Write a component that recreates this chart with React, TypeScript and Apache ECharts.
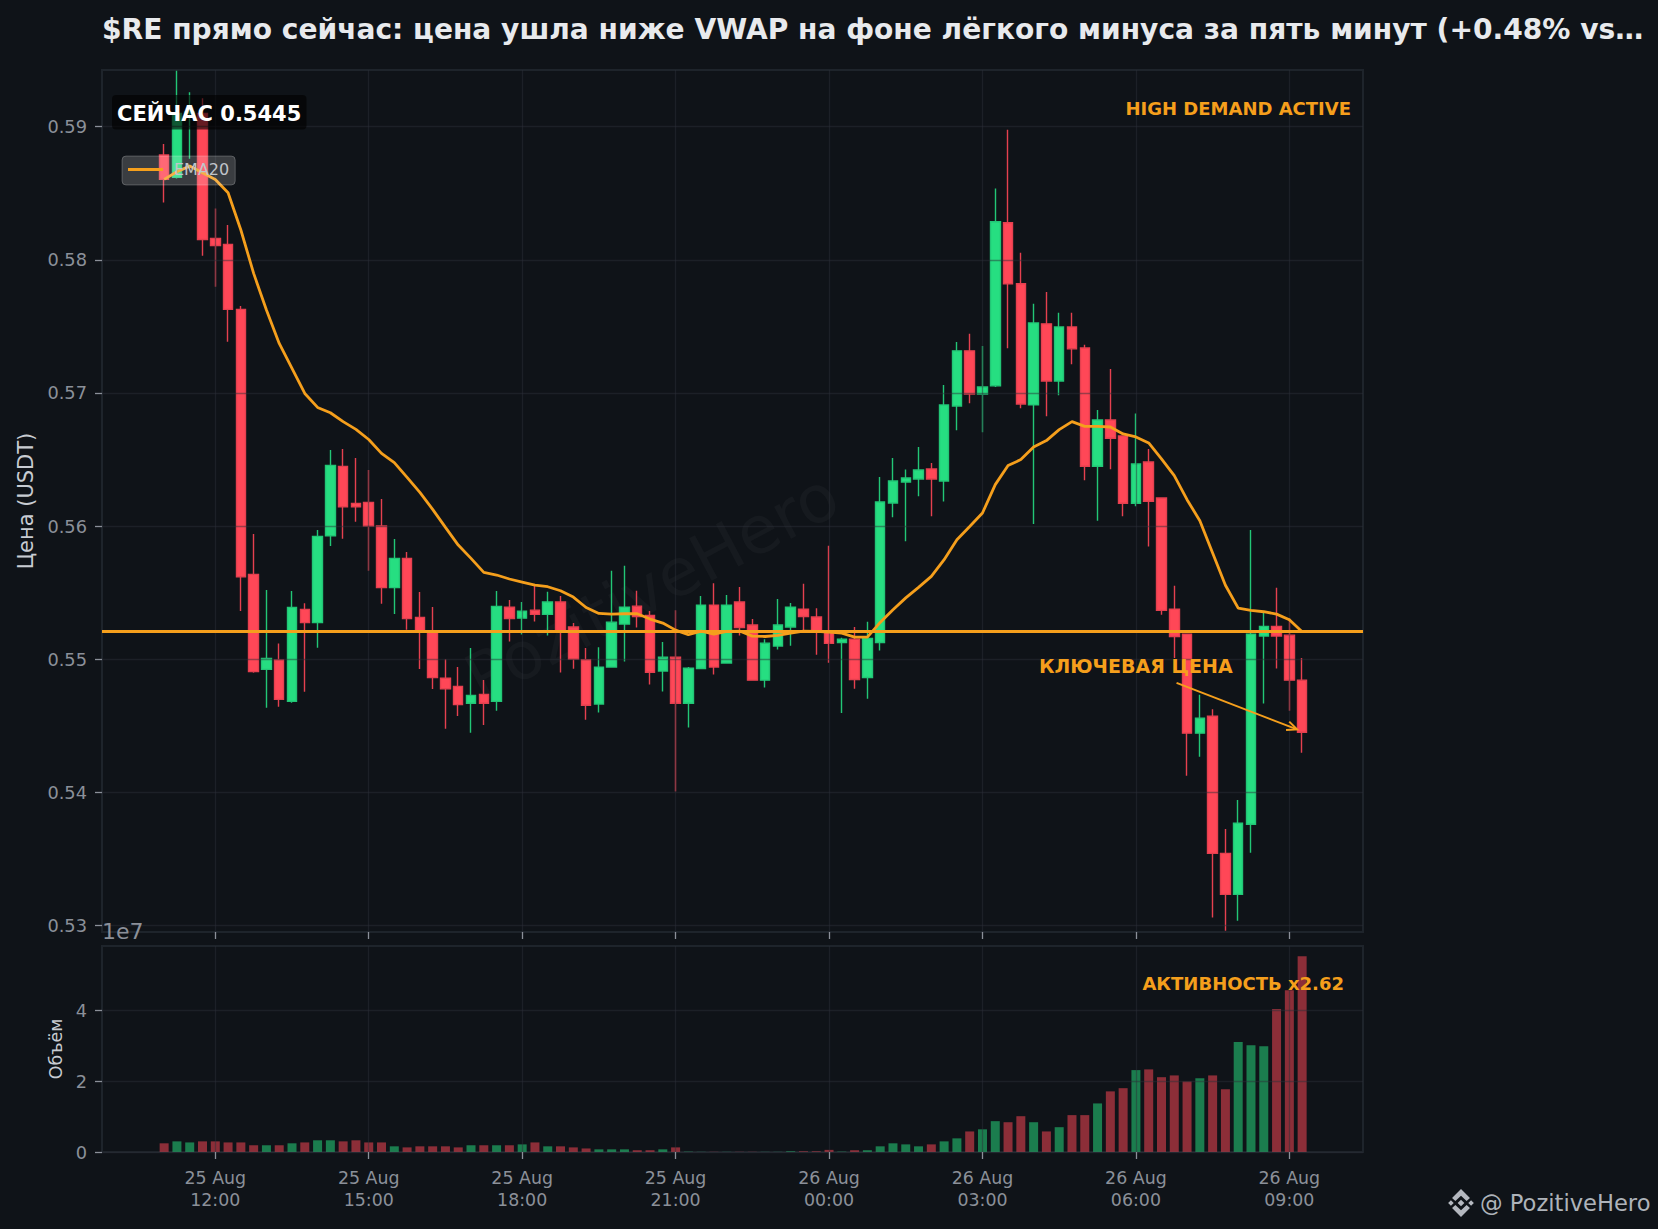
import React, { useEffect, useRef } from "react";
import * as echarts from "echarts";

const titleText = "$RE прямо сейчас: цена ушла ниже VWAP на фоне лёгкого минуса за пять минут (+0.48% vs…";
const yTicks = [0.53, 0.54, 0.55, 0.56, 0.57, 0.58, 0.59];
const volTicks = [0, 2, 4];
const xTickSlots = [4, 16, 28, 40, 52, 64, 76, 88];
const xTickLabels = ["25 Aug\n12:00", "25 Aug\n15:00", "25 Aug\n18:00", "25 Aug\n21:00", "26 Aug\n00:00", "26 Aug\n03:00", "26 Aug\n06:00", "26 Aug\n09:00"];
const keyPrice = 0.5521;
const arrowCoords = [79.18, 0.54822, 88.6, 0.54472];

const opens = [
  0.58787, 0.58619, 0.5910, 0.5910, 0.58161, 0.58116, 0.57628, 0.55637, 0.54923, 0.54993,
  0.54683, 0.55374, 0.55274, 0.55927, 0.56448, 0.5617, 0.56178, 0.56, 0.55537, 0.55757,
  0.55314, 0.55209, 0.54856, 0.54795, 0.54668, 0.54735, 0.54683, 0.5539, 0.55308, 0.55368,
  0.55336, 0.55429, 0.55241, 0.54995, 0.54662, 0.5494, 0.55263, 0.55398, 0.55328, 0.5491,
  0.55015, 0.54669, 0.5493, 0.55406, 0.5497, 0.55429, 0.55256, 0.54842, 0.55098, 0.55241,
  0.55376, 0.55316, 0.55208, 0.55125, 0.5515, 0.54862, 0.55125, 0.56173, 0.56331, 0.56353,
  0.56429, 0.56338, 0.56902, 0.57316, 0.56992, 0.57053, 0.58278, 0.5782, 0.5691, 0.57519,
  0.5709, 0.57496, 0.57338, 0.56449, 0.56797, 0.56677, 0.56171, 0.56481, 0.56211, 0.55376,
  0.55188, 0.54444, 0.54571, 0.53541, 0.53233, 0.5376, 0.55173, 0.55246, 0.5518, 0.54842,
];
const closes = [
  0.58604, 0.5910, 0.5911, 0.58153, 0.58108, 0.57628, 0.55619, 0.54906, 0.55006, 0.54698,
  0.55389, 0.55274, 0.55922, 0.56456, 0.56145, 0.56145, 0.56, 0.55537, 0.55757, 0.55304,
  0.55209, 0.54861, 0.54778, 0.54658, 0.54728, 0.54668, 0.55396, 0.55305, 0.55361, 0.55336,
  0.55429, 0.55208, 0.55, 0.54654, 0.5494, 0.55278, 0.55391, 0.5532, 0.54902, 0.55015,
  0.54669, 0.54932, 0.55406, 0.5494, 0.55406, 0.55238, 0.54842, 0.5512, 0.55256, 0.55391,
  0.5532, 0.55208, 0.55118, 0.5515, 0.54847, 0.55155, 0.5618, 0.56338, 0.56361, 0.56421,
  0.56353, 0.5691, 0.57316, 0.56992, 0.57045, 0.58286, 0.5782, 0.56917, 0.57526, 0.5709,
  0.57496, 0.57331, 0.56449, 0.56797, 0.56659, 0.56171, 0.56466, 0.56186, 0.55366, 0.5517,
  0.54444, 0.54556, 0.53541, 0.53233, 0.53767, 0.55188, 0.55246, 0.55173, 0.54842, 0.54451,
];
const lows = [
  0.5843, 0.5861, 0.5876, 0.5803, 0.57798, 0.57385, 0.55361, 0.54898, 0.54635, 0.54643,
  0.54673, 0.54755, 0.55086, 0.5585, 0.55905, 0.56033, 0.55664, 0.55416, 0.55339, 0.5522,
  0.54926, 0.54775, 0.54477, 0.54573, 0.54447, 0.54505, 0.54613, 0.55132, 0.55185, 0.55283,
  0.55178, 0.549, 0.54927, 0.54544, 0.54599, 0.5494, 0.54982, 0.55238, 0.54809, 0.54757,
  0.54005, 0.54486, 0.5493, 0.54885, 0.5497, 0.55178, 0.54842, 0.54787, 0.55073, 0.551,
  0.55216, 0.55033, 0.54972, 0.54596, 0.54777, 0.54702, 0.55065, 0.56065, 0.55885, 0.56223,
  0.56073, 0.56185, 0.56719, 0.56922, 0.56704, 0.57045, 0.57336, 0.56885, 0.56015, 0.56825,
  0.56982, 0.57216, 0.56343, 0.5604, 0.56426, 0.56073, 0.56148, 0.55847, 0.55333, 0.55008,
  0.54123, 0.54266, 0.53058, 0.5296, 0.53035, 0.53546, 0.54667, 0.5493, 0.54612, 0.54296,
];
const highs = [
  0.5887, 0.5942, 0.59258, 0.59213, 0.58386, 0.58261, 0.57653, 0.5594, 0.55519, 0.55118,
  0.55512, 0.55419, 0.5597, 0.56571, 0.56579, 0.56511, 0.56421, 0.56203, 0.55902, 0.55805,
  0.55504, 0.55391, 0.55, 0.54941, 0.55083, 0.54843, 0.55512, 0.55445, 0.55429, 0.55551,
  0.55506, 0.55474, 0.55271, 0.55083, 0.5509, 0.55664, 0.55702, 0.55514, 0.55361, 0.55128,
  0.55368, 0.5494, 0.55474, 0.55571, 0.55481, 0.55541, 0.55301, 0.5515, 0.55451, 0.55421,
  0.55566, 0.55383, 0.55852, 0.5516, 0.55241, 0.55281, 0.56368, 0.56511, 0.56424, 0.56594,
  0.56474, 0.5706, 0.57383, 0.57444, 0.57353, 0.58536, 0.58977, 0.58053, 0.57669, 0.57759,
  0.57602, 0.57602, 0.57361, 0.56872, 0.5718, 0.56677, 0.56845, 0.56579, 0.56211, 0.55551,
  0.55188, 0.54732, 0.54624, 0.53724, 0.53942, 0.5597, 0.55346, 0.55536, 0.55308, 0.55008,
];
const ema20 = [
  0.58604, 0.58662, 0.58704, 0.58654, 0.58604, 0.58504, 0.58224, 0.57898, 0.57623, 0.57372,
  0.57184, 0.56996, 0.56891, 0.56851, 0.56784, 0.56726, 0.56650, 0.56546, 0.56476, 0.56366,
  0.56253, 0.56125, 0.5599, 0.55857, 0.55757, 0.55652, 0.55632, 0.55602, 0.55579, 0.55556,
  0.55544, 0.55514, 0.55466, 0.55388, 0.55343, 0.55338, 0.55341, 0.55341, 0.55301, 0.55271,
  0.55218, 0.55183, 0.55211, 0.55188, 0.55208, 0.55211, 0.55173, 0.5517, 0.55178, 0.55195,
  0.55211, 0.55208, 0.55203, 0.55195, 0.55165, 0.55165, 0.55276, 0.55371, 0.55460, 0.55539,
  0.55622, 0.55747, 0.55897, 0.55997, 0.56098, 0.56311, 0.56454, 0.56499, 0.56594, 0.56642,
  0.56724, 0.56784, 0.56749, 0.56749, 0.56744, 0.56692, 0.56669, 0.56624, 0.56504, 0.56378,
  0.56198, 0.56040, 0.55797, 0.55555, 0.55383, 0.55366, 0.55356, 0.55338, 0.55296, 0.55206,
];
const volumes = [
  0.245, 0.30, 0.27, 0.30, 0.30, 0.27, 0.27, 0.19, 0.19, 0.19,
  0.245, 0.27, 0.33, 0.33, 0.30, 0.33, 0.27, 0.27, 0.16, 0.13,
  0.16, 0.16, 0.16, 0.13, 0.19, 0.19, 0.19, 0.19, 0.215, 0.27,
  0.16, 0.16, 0.13, 0.10, 0.075, 0.075, 0.075, 0.05, 0.05, 0.075,
  0.13, 0.01, 0.005, 0.005, 0.005, 0.005, 0.005, 0.005, 0.005, 0.02,
  0.02, 0.02, 0.06, 0.01, 0.05, 0.05, 0.16, 0.245, 0.215, 0.16,
  0.215, 0.30, 0.385, 0.58, 0.64, 0.87, 0.84, 1.01, 0.84, 0.58,
  0.70, 1.04, 1.04, 1.37, 1.71, 1.80, 2.31, 2.33, 2.11, 2.16,
  1.99, 2.08, 2.16, 1.77, 3.10, 3.01, 2.98, 4.03, 4.56, 5.52,
];

const UP = "#26de81";
const DOWN = "#ff4757";
const ORANGE = "#f59f1c";
const BG = "#0f1318";
const TICK = "#8b9099";
const GRIDLINE = "rgba(43,49,57,0.48)";
const FONT = "DejaVu Sans";

const logoPath =
  "M50 38L62 50L50 62L38 50Z M14 40L24 50L14 60L4 50Z M86 40L96 50L86 60L76 50Z " +
  "M50 0L82 32L70 43L50 24L30 43L18 32Z M50 100L82 68L70 57L50 76L30 57L18 68Z";
echarts.graphic.registerShape("pzLogo", echarts.graphic.extendPath(logoPath, {}) as any);

export default function App() {
  const ref = useRef<HTMLDivElement>(null);
  useEffect(() => {
    document.body.style.margin = "0";
    document.body.style.background = BG;
    const chart = echarts.init(ref.current!, null, { renderer: "svg" });
    const slots = opens.map((_, i) => i);
    const xBase = {
      type: "value",
      min: -4.86,
      max: 93.76,
      z: 3,
      axisLine: { show: false, onZero: false },
      axisTick: { show: true, length: 7, customValues: xTickSlots, lineStyle: { color: TICK, width: 1.3 } },
      splitLine: { show: true, lineStyle: { color: GRIDLINE, width: 1.3 } },
    };
    const yBase = {
      type: "value",
      z: 3,
      axisLine: { show: false, onZero: false },
      axisTick: { show: true, length: 7, lineStyle: { color: TICK, width: 1.3 } },
      splitLine: { show: true, lineStyle: { color: GRIDLINE, width: 1.3 } },
    };
    const option: any = {
      animation: false,
      backgroundColor: BG,
      textStyle: { fontFamily: FONT },
      title: {
        text: titleText,
        left: 102,
        top: 15,
        padding: 0,
        textStyle: { color: "#e8eaed", fontFamily: FONT, fontWeight: "bold", fontSize: 28.1 },
      },
      legend: {
        show: true,
        data: ["EMA20"],
        left: 122,
        top: 156,
        z: 6,
        padding: [5.5, 6, 7.5, 6],
        itemWidth: 35,
        itemHeight: 2.8,
        icon: "rect",
        selectedMode: false,
        backgroundColor: "rgba(255,255,255,0.18)",
        borderColor: "rgba(255,255,255,0.22)",
        borderWidth: 1,
        borderRadius: 4,
        textStyle: { color: "#c0c4c9", fontFamily: FONT, fontSize: 16, padding: [0, 0, 0, 6] },
      },
      grid: [
        { left: 102, top: 70, width: 1261, height: 862, show: true, borderColor: "#1e242b", borderWidth: 2, backgroundColor: "transparent" },
        { left: 102, top: 946, width: 1261, height: 206, show: true, borderColor: "#1e242b", borderWidth: 2, backgroundColor: "transparent" },
      ],
      xAxis: [
        { ...xBase, gridIndex: 0, axisLabel: { show: false } },
        {
          ...xBase,
          gridIndex: 1,
          axisLabel: {
            show: true,
            color: TICK,
            fontFamily: FONT,
            fontSize: 17.4,
            lineHeight: 22,
            margin: 15,
            customValues: xTickSlots,
            formatter: (v: number) => xTickLabels[xTickSlots.indexOf(v)] ?? "",
          },
        },
      ],
      yAxis: [
        {
          ...yBase,
          gridIndex: 0,
          min: 0.5295,
          max: 0.59426,
          axisTick: { ...yBase.axisTick, customValues: yTicks },
          axisLabel: { color: TICK, fontFamily: FONT, fontSize: 17.8, margin: 15, padding: [2, 0, 0, 0], customValues: yTicks, formatter: (v: number) => v.toFixed(2) },
          name: "Цена (USDT)",
          nameLocation: "middle",
          nameGap: 66,
          nameTextStyle: { color: "#c8ccd2", fontFamily: FONT, fontSize: 21 },
        },
        {
          ...yBase,
          gridIndex: 1,
          min: 0,
          max: 5.81,
          axisTick: { ...yBase.axisTick, customValues: volTicks },
          axisLabel: { color: TICK, fontFamily: FONT, fontSize: 17.8, margin: 15, customValues: volTicks, formatter: (v: number) => String(v) },
          name: "Объём",
          nameLocation: "middle",
          nameGap: 38,
          nameTextStyle: { color: "#c8ccd2", fontFamily: FONT, fontSize: 17.4 },
        },
      ],
      series: [
        {
          type: "candlestick",
          name: "Price",
          xAxisIndex: 0,
          yAxisIndex: 0,
          barWidth: 10,
          z: 2,
          data: slots.map((i) => [i, opens[i], closes[i], lows[i], highs[i]]),
          itemStyle: { color: UP, color0: DOWN, borderColor: "#22c676", borderColor0: "#e5404f", borderWidth: 1.4 },
        },
        {
          type: "line",
          name: "EMA20",
          xAxisIndex: 0,
          yAxisIndex: 0,
          z: 5,
          showSymbol: false,
          symbol: "none",
          smooth: false,
          data: slots.map((i) => [i, ema20[i]]),
          lineStyle: { color: ORANGE, width: 2.8 },
          itemStyle: { color: ORANGE },
          markLine: {
            silent: true,
            symbol: "none",
            precision: 5,
            label: { show: false },
            lineStyle: { color: ORANGE, width: 3.2, type: "solid" },
            data: [{ yAxis: keyPrice }],
          },
        },
        {
          type: "custom",
          name: "arrow",
          xAxisIndex: 0,
          yAxisIndex: 0,
          z: 5,
          silent: true,
          encode: { x: [0, 2], y: [1, 3] },
          data: [arrowCoords],
          renderItem: (_p: any, api: any) => {
            const a = api.coord([api.value(0), api.value(1)]);
            const b = api.coord([api.value(2), api.value(3)]);
            const ang = Math.atan2(b[1] - a[1], b[0] - a[0]);
            const h = 11;
            const spread = 0.42;
            const style = { stroke: ORANGE, lineWidth: 2, fill: "none" };
            return {
              type: "group",
              children: [
                { type: "line", shape: { x1: a[0], y1: a[1], x2: b[0], y2: b[1] }, style },
                {
                  type: "polyline",
                  shape: {
                    points: [
                      [b[0] - h * Math.cos(ang - spread), b[1] - h * Math.sin(ang - spread)],
                      [b[0], b[1]],
                      [b[0] - h * Math.cos(ang + spread), b[1] - h * Math.sin(ang + spread)],
                    ],
                  },
                  style,
                },
              ],
            };
          },
        },
        {
          type: "bar",
          name: "Volume",
          xAxisIndex: 1,
          yAxisIndex: 1,
          barWidth: 9,
          z: 2,
          data: slots.map((i) => ({
            value: [i, volumes[i]],
            itemStyle: { color: closes[i] >= opens[i] ? UP : DOWN, opacity: 0.52 },
          })),
        },
      ],
      graphic: [
        {
          type: "text",
          z: 1,
          silent: true,
          x: 652,
          y: 587,
          rotation: (28 * Math.PI) / 180,
          style: { text: "PozitiveHero", fill: "rgba(255,255,255,0.03)", font: `66px "${FONT}"`, textAlign: "center", textVerticalAlign: "middle" },
        },
        { type: "rect", z: 7, silent: true, shape: { x: 112, y: 95, width: 194.5, height: 34.5, r: 4 }, style: { fill: "rgba(0,0,0,0.6)" } },
        { type: "text", z: 8, silent: true, x: 117, y: 113.5, style: { text: "СЕЙЧАС 0.5445", fill: "#ffffff", font: `bold 21px "${FONT}"`, textVerticalAlign: "middle" } },
        { type: "text", z: 8, silent: true, x: 1351, y: 108, style: { text: "HIGH DEMAND ACTIVE", fill: ORANGE, font: `bold 18px "${FONT}"`, textAlign: "right", textVerticalAlign: "middle" } },
        { type: "text", z: 8, silent: true, x: 1039, y: 666, style: { text: "КЛЮЧЕВАЯ ЦЕНА", fill: ORANGE, font: `bold 19px "${FONT}"`, textVerticalAlign: "middle" } },
        { type: "text", z: 8, silent: true, x: 1344, y: 983, style: { text: "АКТИВНОСТЬ x2.62", fill: ORANGE, font: `bold 18px "${FONT}"`, textAlign: "right", textVerticalAlign: "middle" } },
        { type: "text", z: 8, silent: true, x: 102, y: 931, style: { text: "1e7", fill: TICK, font: `22px "${FONT}"`, textVerticalAlign: "middle" } },
        { type: "pzLogo", z: 8, silent: true, x: 1447, y: 1189, scaleX: 0.28, scaleY: 0.28, style: { fill: "#b4b8bf" } },
        { type: "text", z: 8, silent: true, x: 1480, y: 1203, style: { text: "@ PozitiveHero", fill: "#aeb3ba", font: `22.6px "${FONT}"`, textVerticalAlign: "middle" } },
      ],
    };
    chart.setOption(option);
    return () => chart.dispose();
  }, []);
  return <div ref={ref} style={{ width: 1658, height: 1229 }} />;
}
